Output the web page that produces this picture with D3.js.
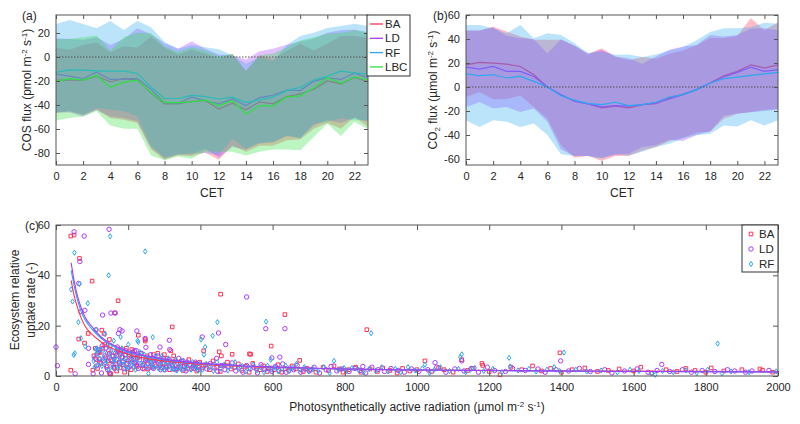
<!DOCTYPE html>
<html><head><meta charset="utf-8">
<script src="https://cdn.jsdelivr.net/npm/d3@7"></script>
<style>body{margin:0;background:#fff}svg{font-family:"Liberation Sans",Arial,Helvetica,sans-serif}</style>
</head><body><svg id="chart" width="800" height="424"></svg>
<script>
// ---------- DATA ----------
const hours = [0,1,2,3,4,5,6,7,8,9,10,11,12,13,14,15,16,17,18,19,20,21,22,23];
const hourTicks = [0,2,4,6,8,10,12,14,16,18,20,22];
const cosTicks = [-80,-60,-40,-20,0,20];
const co2Ticks = [-60,-40,-20,0,20,40,60];
const parTicks = [0,200,400,600,800,1000,1200,1400,1600,1800,2000];
const eruTicks = [0,20,40,60];
const cosSites = ["BA","LD","RF","LBC"];
const co2Sites = ["BA","LD","RF"];
const siteColors = {BA:"#ff3355", LD:"#a83cff", RF:"#2aa8f0", LBC:"#2ee040"};

// (a) COS flux, mean and band
const cosBA_mean = [-19.2,-19.2,-19.2,-16,-20.6,-18,-19.2,-30,-39,-39,-37,-36.3,-43.4,-38.5,-44,-37.4,-39,-33,-30.8,-27,-20,-22.5,-17,-20.6];
const cosLD_mean = [-14.3,-16,-17.9,-12.6,-18.7,-18.4,-18,-27,-38,-38.5,-33.5,-36.3,-39,-35,-40.4,-33.8,-31.9,-27.5,-28,-20.3,-17.3,-18.7,-13.5,-17.3];
const cosRF_mean = [-12.9,-10.7,-11,-11.5,-11.8,-11.8,-13.7,-25,-34.6,-34.6,-32,-33,-35,-33.5,-38,-35.7,-33.5,-28,-25.3,-19.2,-16,-11.8,-13.2,-14.3];
const cosLBC_mean = [-20.3,-18,-19.2,-15.4,-25.3,-20.9,-19.2,-29.7,-38,-38,-37.4,-35.7,-40.7,-36.3,-47.5,-40.7,-40.7,-33.5,-32.4,-25.8,-17.3,-22,-16.5,-19.2];
const cosBA_hi = [8,6,10,12,4,9,8,17,8,2,6,3,-1.4,2.7,-11.5,1.4,-1.4,5,11,5.5,11,17.5,17.5,16];
const cosLD_hi = [15.7,15,14.3,16.5,10,15,24,19,11.5,6.9,13.2,6.9,2,1.4,-2,4.7,6.9,10.3,13,15.3,20.3,22.2,23,20.3];
const cosRF_hi = [27.5,30.8,27.5,24,30,22.5,30,24.7,12.4,6.9,10,8.2,6.4,1.4,-5.6,0,-3.6,9.7,17.5,20.3,24.2,25.8,27.8,25.8];
const cosLBC_hi = [15,15,16.5,17.9,5.5,16.5,20.3,19.8,8.8,4.1,8.2,5.5,0.5,2.7,-11.9,1.4,3,8,13.7,16.5,19.4,20.3,22.2,20.8];
const cosBA_lo = [-46.7,-45.3,-48.1,-44,-50.8,-52.2,-54.9,-76.9,-85.7,-81.9,-82.4,-79.7,-85.7,-73.6,-79,-74,-74,-69.4,-68.7,-59.7,-54.9,-59.7,-50,-58.3];
const cosLD_lo = [-46.2,-46.2,-49.5,-44,-49.5,-50.8,-53.6,-75.5,-84.6,-81.3,-81.3,-76.4,-83.8,-75,-77,-72,-71,-66,-67.3,-57,-52.7,-55,-50.8,-54];
const cosRF_lo = [-46,-45.3,-48,-42.6,-44,-45.3,-49.5,-74,-83.8,-81,-80.2,-79.7,-81.9,-68,-76.4,-71.4,-70.8,-65.3,-68,-55.6,-54,-50.8,-52.8,-52.8];
const cosLBC_lo = [-53,-50.8,-49.5,-45.3,-57,-59.7,-59.7,-82,-86,-83,-84.7,-78.3,-79,-79,-82,-79,-77,-77,-77.8,-66.7,-55.6,-65.8,-54,-60.3];

// (b) CO2 flux, mean and band
const co2BA_mean = [18.5,20.5,19.9,19,17.1,10.2,0,-6.4,-11.9,-14.1,-17.4,-16,-17.4,-14.7,-13.8,-9.1,-5.8,-2.2,3.3,9.4,13,18.5,15.8,18.5];
const co2LD_mean = [16.6,14.9,17.1,13,13,8.8,0,-6.4,-11.9,-14.1,-16.6,-15.5,-16,-14.7,-13.3,-10,-6.4,-2.2,3.3,8.3,12.2,16.6,13,14.4];
const co2RF_mean = [11,9.4,10.2,7.5,8.8,4.7,0,-7.2,-11,-13.8,-14.7,-12.7,-15.5,-14.7,-12.7,-8.3,-6.4,-2.2,3.3,6.9,8.3,9.7,11,12.2];
const co2BA_hi = [47,47,50.3,46.2,42,39.3,39.3,39.3,34.3,26.8,32.3,25.4,22.2,25,23.6,27.8,30.5,34.7,40.8,40.8,42.5,57.5,47.2,54];
const co2LD_hi = [47,47,49.8,42.6,40.6,39.8,28,39.8,34.3,28.2,31,25.4,24,19.4,25.4,31,33.7,35.1,43.4,42,43.4,48.6,49,47.2];
const co2RF_hi = [51.7,51.7,49,44.8,51.7,40.6,44.8,43.4,36.5,28.2,29.6,26.8,27,25,27,30.5,33.3,38.9,45.8,49,49,50,53.6,52.8];
const co2BA_lo = [-8.3,-4.2,-10.3,-10,-7,-16.7,-26.4,-48.6,-58.9,-57.5,-61.7,-57.5,-57.5,-53,-50,-45,-42.3,-38.2,-37,-26.4,-22.2,-20.8,-19,-18.6];
const co2LD_lo = [-16.7,-12.5,-18,-16.7,-20.8,-18,-29,-52,-57.5,-57.5,-59,-56.5,-55.6,-50,-48.6,-44,-45,-40,-37,-24,-22,-21,-20,-18.6];
const co2RF_lo = [-27.8,-33.3,-27.8,-29,-33.3,-30.5,-40,-56,-57.5,-57.5,-59.7,-56.1,-57,-54,-50,-47.2,-43,-40,-39,-32,-33,-27.8,-32,-27.8];

// (c) ecosystem relative uptake vs PAR
const baPts = [[41,55.6],[50,56],[65,46.7],[100,37.7],[172,29.9],[163,25.1],[127,18.2],[133,16.9],[89,16.9],[79,13.1],[322,19.5],[456,32.5],[634,24.4],[596,11.9],[539,8.6],[488,8.6],[452,9.6],[458,8],[409,10],[861,18.4],[63,14.7],[41,2.3],[102,2.3],[150,0.9],[228,16.2],[247,13.9],[1124,6.5],[1396,9.2],[1022,6],[1182,4.2],[1957,2.3],[109,11],[122,9.4],[148,14.5],[150,12],[120,6.8],[152,0.8],[536,8.8],[247,14.5],[226,7.4],[186,9.5],[195,11],[210,10.5],[300,8.5],[318,10],[260,7],[168,2],[190,1.5],
[105,8],[112,6.5],[118,9.5],[125,5],[130,11],[138,7.2],[142,4],[148,9],[155,6],[160,3.5],[168,8.2],[175,5.5],[180,10.5],[186,4.5],[192,7],[198,3],[205,6.5],[212,9.5],[218,5],[225,3.8],[232,7.5],[240,4.2],[248,6],[255,2.8],[262,5.5],[270,8.5],[278,4],[285,6.2],[292,3.2],[300,5],[308,7],[315,2.5],[322,4.5],[330,6],[338,3.5],[345,5.2],[352,2.2],[360,4.8],[368,6.5],[375,3],[382,4.2],[390,2],[398,5.5],
[115,3],[135,12.5],[145,6],[158,8],[165,4.8],[172,10],[178,3.2],[184,7.5],[196,5],[203,8.5],[208,2.5],[215,7],[222,4],[236,9],[244,2.8],[252,8],[266,3.5],[274,6],[282,9],[290,4.8],[304,3.5],[312,5.5],[326,8],[334,2.8],[348,6],[356,3.8],[364,2.8],[386,5],[394,3.5],
[405,3.2],[415,4.5],[425,2.5],[435,6],[445,3.5],[455,1.8],[465,4.2],[475,5.5],[485,2.8],[495,3.5],[505,4.8],[515,2.2],[525,3.8],[535,1.5],[545,5],[555,3],[565,2.5],[575,4],[585,1.8],[595,3.2],[605,2.5],[615,4.5],[625,1.5],[635,3],[645,2.2],[655,4],[665,2.8],[675,6.2],[685,1.8],[695,3],[705,2.5],[720,1.5],[740,3.5],[755,2.2],[770,4],[785,2.8],[795,1.5],
[810,2.5],[830,3.5],[845,1.5],[870,2.8],[890,1.8],[905,3.2],[925,2.2],[945,1.2],[960,3],[980,2],[1000,2.5],[1040,1.8],[1060,3.2],[1075,2.5],[1100,1.5],[1140,2.2],[1155,3],[1180,5],[1200,1.8],[1230,0.5],[1260,3.5],[1290,2.5],[1320,4],[1345,2],[1370,3],[1400,1.5],[1430,2.5],[1465,3.2],[1500,1.8],[1530,2.2],[1560,2.8],[1600,2],[1620,3.5],[1650,1.2],[1690,2.5],[1720,1.8],[1745,3],[1770,2.2],[1800,1.5],[1815,3.2],[1850,2],[1900,2.5],[1950,2.8],[1985,1.5]];
const ldPts = [[0,11.5],[4,4.1],[50,57.3],[147,58.3],[78,55.6],[66,45.5],[63,36.8],[80,26.1],[129,24.2],[152,25],[164,25],[177,18.4],[183,17.9],[173,16.9],[224,17.9],[247,14.9],[288,11.5],[314,14.2],[405,15.5],[450,17.1],[470,12.5],[528,31.4],[634,18.8],[581,18.8],[598,7.2],[850,3.8],[90,4.6],[53,0.9],[126,1.2],[103,0.9],[69,25.6],[111,18.4],[90,11],[148,1.2],[249,11.4],[222,10.1],[1050,5.3],[1124,6],[1398,6],[1678,4.6],[1860,2.5],[1928,2],[620,7.5],[315,10.5],[445,7],
[108,7],[115,9],[122,5.5],[128,12],[135,8],[140,3.5],[146,10],[152,6.5],[158,4.5],[165,9],[170,11.5],[176,5],[182,7.5],[188,3],[194,10],[200,6],[206,4.2],[214,8],[220,5.5],[228,3],[236,9],[244,5],[250,7],[258,3.5],[266,6],[274,4.5],[282,8],[290,2.5],[298,5.5],[306,3.5],[314,6.5],[322,4],[330,2.5],[336,5.5],[344,3.2],[352,6],[360,2],[370,4.5],[378,3.5],[386,5.5],[394,2.5],
[112,4],[118,10.5],[132,6],[138,11],[143,2.5],[155,8],[162,3],[168,6.5],[179,9.5],[186,5.5],[192,8.5],[203,3.5],[210,6.5],[217,10],[224,4.5],[232,6.5],[240,3],[254,5],[262,8.5],[270,3],[278,6.5],[286,4],[294,7],[302,2.5],[318,5],[326,3],[340,7],[356,4],[364,5.5],[382,3],
[408,4],[418,2.8],[428,5],[438,3.2],[448,1.8],[458,4.2],[468,2.5],[478,3.8],[488,5.2],[498,2],[508,3.5],[518,1.5],[528,4.2],[538,2.8],[548,3.5],[558,1.2],[568,4.5],[578,2.5],[588,3],[598,1.8],[608,3.8],[618,2.2],[628,4.8],[638,1.5],[648,3.2],[658,2.5],[668,4.2],[678,1.5],[690,2.8],[702,2],[715,3.5],[730,1.2],[748,2.5],[762,3.8],[778,2],[792,2.8],
[812,1.8],[828,3],[842,2.2],[858,1.2],[875,3.5],[892,2.5],[910,1.8],[928,3],[948,2.2],[965,1.5],[985,2.8],[1005,1.8],[1030,2.5],[1055,3.5],[1080,1.5],[1105,2.8],[1130,2],[1150,3],[1170,1.5],[1195,3.5],[1215,2.2],[1245,1.8],[1265,3],[1300,2.2],[1335,2.8],[1355,1.5],[1385,2.5],[1420,2],[1450,3],[1480,1.8],[1520,2.5],[1540,1.2],[1575,2],[1610,2.8],[1640,1.5],[1665,2.2],[1700,1.8],[1735,2.5],[1760,1.5],[1790,2.2],[1825,1.8],[1880,2],[1910,1.5],[1975,2.2]];
const rfPts = [[51,49],[150,55.5],[146,40],[247,49.5],[42,34.4],[46,29.6],[65,36.6],[88,28.9],[62,21.4],[69,15],[49,8.4],[52,9],[118,10.1],[226,14],[268,15.4],[402,14.5],[434,16],[447,21.4],[582,21.6],[81,11.8],[111,10.7],[873,17],[136,16.6],[228,13.5],[294,8.1],[1833,12.9],[1124,8.6],[1255,7.2],[1407,9.3],[1022,4.5],[413,11.5],[179,15.5],[111,18.4],[160,14],[200,12.5],[410,8.5],[595,6.5],[1120,7.5],
[104,6],[110,8.5],[116,4.5],[124,10.5],[131,7],[137,5],[143,12],[149,8],[156,3.5],[162,6.5],[167,10],[174,4],[180,8.5],[185,6],[192,2.8],[198,9],[204,5],[210,7.5],[216,3.5],[224,6.5],[232,9.5],[240,4.5],[248,7],[256,1],[263,5.5],[271,3.5],[279,6.5],[287,4.5],[295,3],[303,5.8],[311,7],[319,3],[327,5],[335,2.2],[343,4.5],[351,6],[358,3],[366,5],[374,2.5],[382,4],[390,3.2],[398,5],
[107,3.5],[113,11],[120,7],[127,4],[134,9],[140,6],[146,2.5],[153,10],[159,5.5],[165,7.5],[171,3],[177,6],[183,11],[189,4.5],[195,7],[201,3.5],[207,9],[213,5.5],[220,2.5],[228,8],[236,5],[244,8.5],[252,3.5],[260,6],[268,4],[276,8],[284,3],[292,5.5],[300,2.5],[308,4],[316,5.5],[324,2.8],[332,6.5],[340,3.5],[348,2.5],[362,4],[378,5.5],[394,2.2],
[406,2.5],[416,4.8],[426,3.5],[436,2],[446,5.5],[456,3],[466,4.5],[476,2.2],[486,3.8],[496,5.5],[506,2.8],[516,4],[526,1.8],[536,3.2],[546,4.5],[556,2.2],[566,3.5],[576,1.5],[586,4],[596,2.5],[606,3.5],[616,1.8],[626,2.8],[636,4.2],[646,2],[656,3.2],[666,4.8],[676,2.5],[688,3.5],[700,1.8],[712,2.8],[726,2],[742,3.5],[758,1.2],[770,6],[782,2.5],[798,3.2],
[805,2],[820,3.2],[838,2.5],[852,1.5],[868,2.8],[885,2],[902,3.5],[920,1.8],[940,2.8],[955,1.5],[975,3.5],[995,2.2],[1015,3],[1035,1.2],[1048,2.5],[1065,3.5],[1090,2],[1115,2.8],[1135,1.5],[1148,2.5],[1160,3.2],[1185,2],[1210,2.8],[1235,1.5],[1258,3.8],[1280,2.2],[1310,2.8],[1330,1.8],[1360,2.5],[1380,3.5],[1395,2],[1440,2.5],[1470,1.8],[1510,2.2],[1555,1.5],[1590,2.5],[1615,2],[1650,1],[1660,0.5],[1680,2],[1710,1.5],[1745,2.2],[1775,1.2],[1805,2.5],[1845,1],[1870,1.8],[1920,1.5],[1995,1.8]];
// fitted curves
const fitPAR = [42,50,60,70,80,100,125,150,200,250,300,400,500,600,800,1000,1500,2000];
const fitBA = [38,32,27,23,20,16.5,13.5,11.3,8.6,7,6,4.7,3.9,3.4,2.8,2.4,2,1.7];
const fitLD = [45,38,31.5,27,23.5,19.5,15.5,13,9.8,8,6.7,5.1,4.2,3.6,2.8,2.4,1.9,1.6];
const fitRF = [42,36,30,25.5,22.5,18.5,15,12.5,9.5,7.7,6.5,5,4.1,3.5,2.8,2.4,1.9,1.6];

// ---------- DRAW ----------
const svg = d3.select("#chart");
const axisCol = "#262626", boxCol = "#555";
const FILL_A = 0.32;

function frame(g, x, y, xt, yt, opts) {
  const [x0,x1] = x.range(), [y1,y0] = y.range();
  const tl = opts.tick || 4;
  const ax = g.append("g").attr("transform",`translate(0,${y1})`)
    .call(d3.axisBottom(x).tickValues(xt).tickSizeInner(-tl).tickSizeOuter(0).tickPadding(7).tickFormat(d3.format("d")));
  const at = g.append("g").attr("transform",`translate(0,${y0})`)
    .call(d3.axisTop(x).tickValues(xt).tickSizeInner(-tl).tickSizeOuter(0).tickFormat(""));
  const ay = g.append("g").attr("transform",`translate(${x0},0)`)
    .call(d3.axisLeft(y).tickValues(yt).tickSizeInner(-tl).tickSizeOuter(0).tickPadding(6).tickFormat(d3.format("d")));
  const ar = g.append("g").attr("transform",`translate(${x1},0)`)
    .call(d3.axisRight(y).tickValues(yt).tickSizeInner(-tl).tickSizeOuter(0).tickFormat(""));
  [ax,at,ay,ar].forEach(a=>{
    a.select(".domain").remove();
    a.selectAll(".tick line").attr("stroke",boxCol);
    a.selectAll("text").attr("fill",axisCol).attr("font-size",11).attr("font-family","Liberation Sans, Arial, sans-serif");
  });
  ay.selectAll("text").text(d=>d<0?"-"+Math.abs(d):d);
  g.append("rect").attr("x",x0).attr("y",y0).attr("width",x1-x0).attr("height",y1-y0)
    .attr("fill","none").attr("stroke",boxCol).attr("stroke-width",1);
}

function supText(parent, parts, attrs) {
  const t = parent.append("text");
  Object.entries(attrs).forEach(([k,v])=>t.attr(k,v));
  parts.forEach(p=>{
    const s = t.append("tspan").text(p.t);
    if (p.sup) s.attr("dy",-4).attr("font-size",8);
    else if (p.sub) s.attr("dy",3).attr("font-size",8);
    else if (p.back) s.attr("dy",p.back);
  });
  return t;
}

// ---- Panel (a)
{
  const x = d3.scaleLinear().domain([0,23]).range([56,368]);
  const y = d3.scaleLinear().domain([-90,35]).range([165,15]);
  const g = svg.append("g");
  g.append("clipPath").attr("id","clipA").append("rect").attr("x",56).attr("y",15).attr("width",312).attr("height",150);
  const pg = g.append("g").attr("clip-path","url(#clipA)");
  const data = {
    BA:{m:cosBA_mean,hi:cosBA_hi,lo:cosBA_lo}, LD:{m:cosLD_mean,hi:cosLD_hi,lo:cosLD_lo},
    RF:{m:cosRF_mean,hi:cosRF_hi,lo:cosRF_lo}, LBC:{m:cosLBC_mean,hi:cosLBC_hi,lo:cosLBC_lo}};
  cosSites.forEach(s=>{
    const d = data[s];
    pg.append("path").datum(hours).attr("fill",siteColors[s]).attr("fill-opacity",FILL_A)
      .attr("d",d3.area().x(h=>x(h)).y0(h=>y(d.lo[h])).y1(h=>y(d.hi[h])));
    pg.append("path").datum(hours).attr("fill","none").attr("stroke",siteColors[s]).attr("stroke-width",1.2)
      .attr("d",d3.line().x(h=>x(h)).y(h=>y(d.m[h])));
  });
  pg.append("line").attr("x1",56).attr("x2",368).attr("y1",y(0)).attr("y2",y(0))
    .attr("stroke","#555").attr("stroke-dasharray","1.5,1.5").attr("stroke-width",1);
  frame(g,x,y,hourTicks,cosTicks,{});
  g.append("text").attr("x",212).attr("y",197).attr("text-anchor","middle").attr("font-size",12).attr("fill",axisCol).text("CET");
  supText(g,[{t:"COS flux (pmol m"},{t:"-2",sup:1},{t:" s",back:4},{t:"-1",sup:1},{t:")",back:4}],
    {transform:"translate(31,90) rotate(-90)","text-anchor":"middle","font-size":12,fill:axisCol});
  g.append("text").attr("x",22).attr("y",20).attr("font-size",12).attr("fill",axisCol).text("(a)");
  const lg = g.append("g");
  lg.append("rect").attr("x",367).attr("y",15).attr("width",43).attr("height",61).attr("fill","#fff").attr("stroke","#333").attr("stroke-width",1);
  cosSites.forEach((s,i)=>{
    const yy = 24 + i*14.3;
    lg.append("line").attr("x1",370).attr("x2",383).attr("y1",yy).attr("y2",yy).attr("stroke",siteColors[s]).attr("stroke-width",1.3);
    lg.append("text").attr("x",385).attr("y",yy+4).attr("font-size",11.5).attr("fill",axisCol).text(s);
  });
}

// ---- Panel (b)
{
  const x = d3.scaleLinear().domain([0,23]).range([466,778]);
  const y = d3.scaleLinear().domain([-65,60]).range([165,15]);
  const g = svg.append("g");
  g.append("clipPath").attr("id","clipB").append("rect").attr("x",466).attr("y",15).attr("width",312).attr("height",150);
  const pg = g.append("g").attr("clip-path","url(#clipB)");
  const data = {BA:{m:co2BA_mean,hi:co2BA_hi,lo:co2BA_lo}, LD:{m:co2LD_mean,hi:co2LD_hi,lo:co2LD_lo}, RF:{m:co2RF_mean,hi:co2RF_hi,lo:co2RF_lo}};
  co2Sites.forEach(s=>{
    const d = data[s];
    pg.append("path").datum(hours).attr("fill",siteColors[s]).attr("fill-opacity",FILL_A)
      .attr("d",d3.area().x(h=>x(h)).y0(h=>y(d.lo[h])).y1(h=>y(d.hi[h])));
    pg.append("path").datum(hours).attr("fill","none").attr("stroke",siteColors[s]).attr("stroke-width",1.2)
      .attr("d",d3.line().x(h=>x(h)).y(h=>y(d.m[h])));
  });
  pg.append("line").attr("x1",466).attr("x2",778).attr("y1",y(0)).attr("y2",y(0))
    .attr("stroke","#555").attr("stroke-dasharray","1.5,1.5").attr("stroke-width",1);
  frame(g,x,y,hourTicks,co2Ticks,{});
  g.append("text").attr("x",622).attr("y",197).attr("text-anchor","middle").attr("font-size",12).attr("fill",axisCol).text("CET");
  supText(g,[{t:"CO"},{t:"2",sub:1},{t:" flux (µmol m",back:-3},{t:"-2",sup:1},{t:" s",back:4},{t:"-1",sup:1},{t:")",back:4}],
    {transform:"translate(437,90) rotate(-90)","text-anchor":"middle","font-size":12,fill:axisCol});
  g.append("text").attr("x",433).attr("y",20).attr("font-size",12).attr("fill",axisCol).text("(b)");
}

// ---- Panel (c)
{
  const x = d3.scaleLinear().domain([0,2000]).range([56,778]);
  const y = d3.scaleLinear().domain([0,60]).range([376,225]);
  const g = svg.append("g");
  g.append("clipPath").attr("id","clipC").append("rect").attr("x",50).attr("y",220).attr("width",734).attr("height",160);
  const pg = g.append("g").attr("clip-path","url(#clipC)");
  const sq = d3.symbol().type(d3.symbolSquare).size(13);
  const diamond = "M0,-2.6L1.7,0L0,2.6L-1.7,0Z";
  pg.selectAll(".ba").data(baPts).join("path").attr("transform",d=>`translate(${x(d[0])},${y(d[1])})`)
    .attr("d",sq).attr("fill","none").attr("stroke",siteColors.BA).attr("stroke-width",1);
  pg.selectAll(".ld").data(ldPts).join("circle").attr("cx",d=>x(d[0])).attr("cy",d=>y(d[1])).attr("r",2.2)
    .attr("fill","none").attr("stroke",siteColors.LD).attr("stroke-width",1);
  pg.selectAll(".rf").data(rfPts).join("path").attr("transform",d=>`translate(${x(d[0])},${y(d[1])})`)
    .attr("d",diamond).attr("fill","none").attr("stroke",siteColors.RF).attr("stroke-width",1);
  const fline = arr => d3.line().curve(d3.curveMonotoneX).x((p,i)=>x(fitPAR[i])).y((p,i)=>y(arr[i]));
  [["BA",fitBA],["RF",fitRF],["LD",fitLD]].forEach(([s,arr])=>{
    pg.append("path").datum(arr).attr("fill","none").attr("stroke",siteColors[s]).attr("stroke-width",1.1).attr("d",fline(arr));
  });
  frame(g,x,y,parTicks,eruTicks,{tick:5});
  supText(g,[{t:"Photosynthetically active radiation (µmol m"},{t:"-2",sup:1},{t:" s",back:4},{t:"-1",sup:1},{t:")",back:4}],
    {x:417,y:411,"text-anchor":"middle","font-size":12,fill:axisCol});
  const yl = g.append("text").attr("transform","translate(0,300) rotate(-90)").attr("text-anchor","middle").attr("font-size",12).attr("fill",axisCol);
  yl.append("tspan").attr("x",0).attr("y",19).text("Ecosystem relative");
  yl.append("tspan").attr("x",0).attr("y",35).text("uptake rate (-)");
  g.append("text").attr("x",25).attr("y",230).attr("font-size",12).attr("fill",axisCol).text("(c)");
  const lg = g.append("g");
  lg.append("rect").attr("x",742).attr("y",225).attr("width",36).attr("height",47).attr("fill","#fff").attr("stroke","#333").attr("stroke-width",1);
  const ly = [234,249,264];
  lg.append("path").attr("transform",`translate(751,${ly[0]})`).attr("d",sq).attr("fill","none").attr("stroke",siteColors.BA);
  lg.append("circle").attr("cx",751).attr("cy",ly[1]).attr("r",2.2).attr("fill","none").attr("stroke",siteColors.LD);
  lg.append("path").attr("transform",`translate(751,${ly[2]})`).attr("d",diamond).attr("fill","none").attr("stroke",siteColors.RF);
  ["BA","LD","RF"].forEach((s,i)=>lg.append("text").attr("x",759).attr("y",ly[i]+4).attr("font-size",11.5).attr("fill",axisCol).text(s));
}
</script></body></html>
